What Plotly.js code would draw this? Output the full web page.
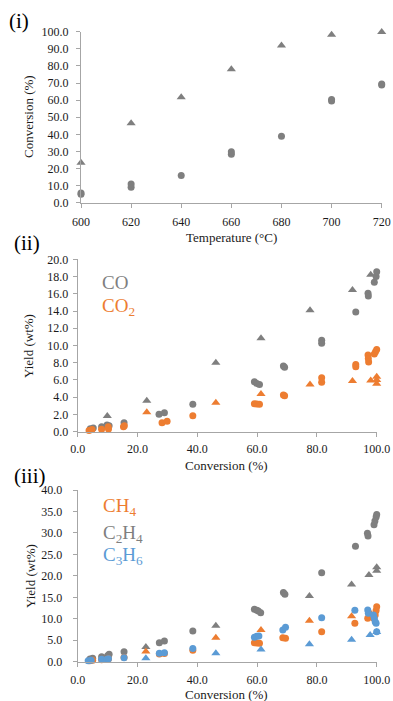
<!DOCTYPE html>
<html>
<head>
<meta charset="utf-8">
<script src="https://cdn.plot.ly/plotly-3.0.1.min.js"></script>
<style>
html,body{margin:0;padding:0;background:#fff;}
#chart{width:393px;height:701px;}
</style>
</head>
<body>
<div id="chart"></div>
<script>
// ---------- Panel (i): conversion vs temperature ----------
const tempTri = [600, 620, 640, 660, 680, 700, 720];
const convTri = [23.4, 46.4, 61.6, 78.0, 92.0, 98.2, 99.8];
const tempCirc = [600, 600, 620, 620, 640, 660, 660, 680, 700, 700, 720, 720];
const convCirc = [4.9, 5.6, 9.0, 11.0, 15.9, 28.3, 29.8, 38.8, 59.5, 60.4, 68.8, 69.4];

// ---------- Panel (ii): CO / CO2 yield vs conversion ----------
const coCircX = [4.2, 5.2, 8.0, 9.8, 10.5, 15.5, 27.2, 29.0, 38.5, 59.1, 59.9, 60.8, 68.8, 69.2, 81.6, 81.6, 93.0, 97.1, 97.2, 99.2, 99.8, 100.0, 100.2];
const coCircY = [0.35, 0.42, 0.58, 0.78, 0.70, 1.05, 2.02, 2.20, 3.17, 5.80, 5.60, 5.48, 7.62, 7.47, 10.60, 10.25, 13.90, 16.05, 15.75, 17.33, 18.0, 18.55, 18.85];
const coTriX = [9.9, 23.1, 46.2, 61.3, 77.7, 91.9, 98.0];
const coTriY = [1.82, 3.60, 8.00, 10.83, 14.10, 16.44, 18.22];

const co2CircX = [3.8, 4.8, 8.0, 10.2, 10.3, 15.3, 15.6, 28.2, 29.9, 38.5, 59.1, 59.9, 60.8, 68.8, 69.2, 81.6, 81.6, 93.0, 93.0, 97.1, 97.2, 97.3, 99.2, 99.6, 100.0];
const co2CircY = [0.15, 0.25, 0.27, 0.58, 0.30, 0.58, 0.70, 1.04, 1.20, 1.86, 3.25, 3.20, 3.17, 4.26, 4.18, 6.27, 5.73, 7.81, 7.54, 8.90, 8.50, 8.10, 9.01, 9.28, 9.55];
const co2TriX = [23.1, 46.2, 61.3, 77.7, 91.9, 98.0, 100.0, 100.0, 100.0];
const co2TriY = [2.25, 3.37, 4.37, 5.49, 5.88, 5.95, 6.38, 6.00, 5.55];

// ---------- Panel (iii): CH4 / C2H4 / C3H6 yield vs conversion ----------
const c2CircX = [4.1, 5.0, 8.0, 10.0, 10.5, 15.5, 27.3, 29.0, 38.5, 59.1, 59.9, 60.4, 61.2, 68.8, 69.3, 81.6, 92.9, 96.9, 97.1, 99.1, 99.4, 99.8, 100.0, 100.2];
const c2CircY = [0.6, 0.8, 1.17, 1.4, 1.72, 2.33, 4.43, 4.82, 7.15, 12.2, 12.0, 11.8, 11.4, 16.1, 15.7, 20.7, 26.9, 29.9, 29.3, 31.9, 32.8, 33.7, 34.3, 34.6];
const c2TriX = [22.8, 46.2, 77.5, 91.6, 97.4, 100.0, 100.0];
const c2TriY = [3.4, 8.4, 15.3, 18.0, 20.2, 21.2, 22.0];

const ch4CircX = [4.0, 5.0, 8.0, 10.0, 10.3, 15.5, 27.3, 29.0, 38.5, 59.1, 59.9, 60.8, 68.6, 69.5, 81.6, 92.7, 97.0, 99.0, 99.5, 99.8, 100.0];
const ch4CircY = [0.25, 0.35, 0.45, 0.55, 0.7, 0.95, 1.8, 1.9, 2.64, 4.4, 4.35, 4.3, 5.6, 5.45, 7.0, 8.95, 10.1, 10.1, 10.9, 11.9, 12.8];
const ch4TriX = [22.8, 46.2, 61.3, 77.5, 91.6, 98.0];
const ch4TriY = [2.4, 5.6, 7.4, 9.55, 10.6, 11.2];

const c3CircX = [3.5, 4.5, 8.0, 9.8, 10.3, 15.5, 27.3, 29.0, 38.5, 59.1, 59.9, 60.6, 68.6, 69.5, 81.6, 92.7, 97.0, 97.2, 98.9, 99.2, 99.5, 99.8, 100.0];
const c3CircY = [0.23, 0.35, 0.56, 0.56, 0.7, 0.93, 1.96, 2.1, 3.1, 5.7, 5.9, 6.0, 7.38, 8.0, 10.25, 12.0, 12.05, 11.3, 10.9, 10.1, 9.3, 8.95, 7.0];
const c3TriX = [22.8, 46.2, 61.3, 77.5, 91.6, 97.8, 100.0];
const c3TriY = [0.79, 1.94, 2.87, 4.04, 5.1, 6.2, 6.9];

const GRAY = '#7f7f7f', ORANGE = '#ed7d31', BLUE = '#5b9bd5';
const SERIF = 'Liberation Serif, Times New Roman, serif';

function pts(x, y, color, symbol, xa, ya) {
  return {
    x: x, y: y, type: 'scatter', mode: 'markers', xaxis: xa, yaxis: ya,
    cliponaxis: false, hoverinfo: 'skip',
    marker: { color: color, symbol: symbol, size: symbol === 'circle' ? 7 : 8, line: { width: 0 } }
  };
}

const traces = [
  pts(tempCirc, convCirc, GRAY, 'circle', 'x', 'y'),
  pts(tempTri, convTri, GRAY, 'triangle-up', 'x', 'y'),
  pts(coCircX, coCircY, GRAY, 'circle', 'x2', 'y2'),
  pts(coTriX, coTriY, GRAY, 'triangle-up', 'x2', 'y2'),
  pts(co2CircX, co2CircY, ORANGE, 'circle', 'x2', 'y2'),
  pts(co2TriX, co2TriY, ORANGE, 'triangle-up', 'x2', 'y2'),
  pts(c2CircX, c2CircY, GRAY, 'circle', 'x3', 'y3'),
  pts(c2TriX, c2TriY, GRAY, 'triangle-up', 'x3', 'y3'),
  pts(ch4CircX, ch4CircY, ORANGE, 'circle', 'x3', 'y3'),
  pts(ch4TriX, ch4TriY, ORANGE, 'triangle-up', 'x3', 'y3'),
  pts(c3CircX, c3CircY, BLUE, 'circle', 'x3', 'y3'),
  pts(c3TriX, c3TriY, BLUE, 'triangle-up', 'x3', 'y3')
];

const W = 393, H = 701;
const px = v => v / W;
const py = v => 1 - v / H;

function xax(domain, range, dtick, anchor, standoff) {
  return {
    domain: domain, range: range, dtick: dtick, tick0: range[0], anchor: anchor,
    showgrid: false, zeroline: false, showline: true, linecolor: '#a6a6a6', linewidth: 1,
    ticks: 'outside', ticklen: 4, tickcolor: '#a6a6a6', tickwidth: 1,
    tickformat: range[1] > 200 ? 'd' : '.1f', ticklabelstandoff: standoff,
    tickfont: { family: SERIF, size: 12, color: '#1a1a1a' }, automargin: false, fixedrange: true
  };
}
function yax(domain, range, dtick, anchor, standoff) {
  return {
    domain: domain, range: range, dtick: dtick, tick0: 0, anchor: anchor,
    showgrid: false, zeroline: false, showline: true, linecolor: '#a6a6a6', linewidth: 1,
    ticks: 'outside', ticklen: 4, tickcolor: '#a6a6a6', tickwidth: 1,
    tickformat: '.1f', ticklabelstandoff: standoff,
    tickfont: { family: SERIF, size: 12, color: '#1a1a1a' }, automargin: false, fixedrange: true
  };
}

function label(text, x, y, size, color, opts) {
  return Object.assign({
    text: text, xref: 'paper', yref: 'paper', x: px(x), y: py(y),
    xanchor: 'left', yanchor: 'middle', showarrow: false,
    font: { family: SERIF, size: size, color: color }
  }, opts || {});
}

const annotations = [
  label('(i)', 7, 21, 21, '#000'),
  label('(ii)', 12, 243, 21, '#000'),
  label('(iii)', 12, 476, 21, '#000'),
  // axis titles
  label('Conversion (%)', 28, 117, 13, '#1a1a1a', { xanchor: 'center', textangle: -90 }),
  label('Temperature (°C)', 231, 237, 13, '#1a1a1a', { xanchor: 'center' }),
  label('Yield (wt%)', 29, 346, 13, '#1a1a1a', { xanchor: 'center', textangle: -90 }),
  label('Conversion (%)', 226, 465, 13, '#1a1a1a', { xanchor: 'center' }),
  label('Yield (wt%)', 30, 576, 13, '#1a1a1a', { xanchor: 'center', textangle: -90 }),
  label('Conversion (%)', 226, 694, 13, '#1a1a1a', { xanchor: 'center' }),
  // series labels
  label('CO', 100, 282, 19, GRAY),
  label('CO<sub>2</sub>', 100, 307, 19, ORANGE),
  label('CH<sub>4</sub>', 101, 507, 19, ORANGE),
  label('C<sub>2</sub>H<sub>4</sub>', 101, 534, 19, GRAY),
  label('C<sub>3</sub>H<sub>6</sub>', 101, 556, 19, BLUE)
];

const layout = {
  width: W, height: H, margin: { l: 0, r: 0, t: 0, b: 0 },
  paper_bgcolor: '#fff', plot_bgcolor: 'rgba(0,0,0,0)', showlegend: false,
  font: { family: SERIF },
  xaxis: xax([px(81), px(381.7)], [600, 720], 20, 'y', 4),
  yaxis: yax([py(202.7), py(31.7)], [0, 100], 10, 'x', 5),
  xaxis2: xax([px(77.7), px(376.7)], [0, 100], 20, 'y2', 2),
  yaxis2: yax([py(431.7), py(259.3)], [0, 20], 2, 'x2', 2),
  xaxis3: xax([px(77.7), px(376.7)], [0, 100], 20, 'y3', 3),
  yaxis3: yax([py(661.7), py(490)], [0, 40], 5, 'x3', 8),
  annotations: annotations
};

Plotly.newPlot('chart', traces, layout, { staticPlot: true, displayModeBar: false });
</script>
</body>
</html>
